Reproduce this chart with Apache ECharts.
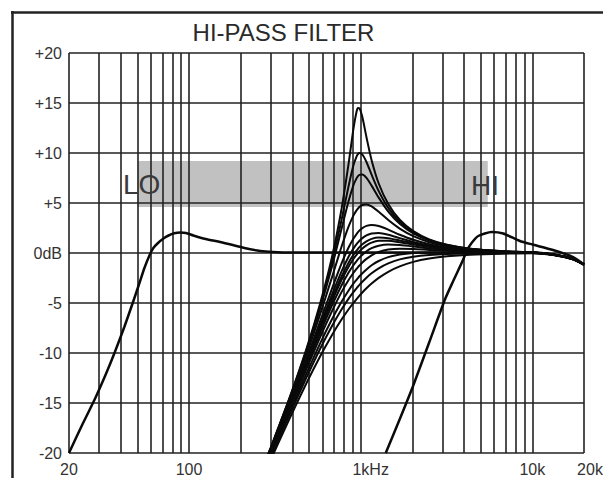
<!DOCTYPE html>
<html><head><meta charset="utf-8">
<script src="https://cdn.jsdelivr.net/npm/echarts@6/dist/echarts.min.js"></script>
<style>html,body{margin:0;padding:0;background:#fff}#c{width:603px;height:478px}</style>
</head><body><div id="c"></div>
<script>
// ---- tick labels ----
const xTickValues = [20, 100, 1000, 10000, 20000];
const xTickLabels = ['20', '100', '1kHz', '10k', '20k'];
const yTickValues = [-20, -15, -10, -5, 0, 5, 10, 15, 20];
const yTickLabels = ['-20', '-15', '-10', '-5', '0dB', '+5', '+10', '+15', '+20'];
const gridFreqs = [20,30,40,50,60,70,80,90,100,200,300,400,500,600,700,800,900,1000,2000,3000,4000,5000,6000,7000,8000,9000,10000,20000];

// ---- shaded band (frequency / dB extent) ----
const bandFreq = [50, 5500];
const bandDb = [4.6, 9.2];

// ---- LO curve ----
const loFreq = [20, 24, 28.3, 33, 37, 42, 47, 51, 55, 59, 62, 66, 71, 76, 82, 89, 96, 106, 125, 152, 180, 217, 260, 308, 400, 1000, 3000, 10000, 13200, 17200, 20000];
const loDb   = [-20, -17.1, -14.6, -12.0, -9.9, -7.4, -5, -3.2, -1.5, -0.2, 0.5, 1.0, 1.45, 1.75, 1.97, 2.05, 2.0, 1.75, 1.4, 1.1, 0.8, 0.45, 0.2, 0.1, 0.05, 0.05, 0.05, 0.05, -0.15, -0.6, -1.15];

// ---- HI curve ----
const hiFreq = [1400, 1700, 2020, 2500, 3097, 3462, 3958, 4144, 4428, 4840, 5792, 6770, 8460, 10000, 13200, 17200, 20000];
const hiDb   = [-20, -16.5, -13.3, -9.0, -4.65, -2.8, -0.65, 0.2, 1.0, 1.7, 2.1, 1.95, 1.2, 0.85, 0.3, -0.4, -1.15];

// ---- centre (resonance sweep) family ----
const famFreq = [270, 299, 386, 483, 579, 676, 772, 849, 907, 946, 965, 984, 1023, 1081, 1158, 1274, 1448, 1689, 2027, 2509, 3185, 4343, 6755, 10000, 13200, 17200, 20000];
const famA = [-21.42, -19.49, -14.44, -9.61, -5.13, -0.63, 4.30, 8.83, 12.39, 14.12, 14.49, 14.47, 13.59, 11.58, 9.28, 6.95, 4.89, 3.32, 2.18, 1.36, 0.82, 0.43, 0.18, 0.05, -0.15, -0.6, -1.15];
const famB = [-21.44, -19.52, -14.50, -9.74, -5.37, -1.12, 3.22, 6.63, 8.74, 9.64, 9.88, 9.99, 9.85, 9.10, 7.83, 6.19, 4.51, 3.12, 2.07, 1.30, 0.79, 0.42, 0.17, 0.05, -0.15, -0.6, -1.15];
const famC = [-21.47, -19.56, -14.57, -9.86, -5.61, -1.56, 2.34, 5.15, 6.77, 7.46, 7.68, 7.81, 7.85, 7.51, 6.74, 5.54, 4.15, 2.93, 1.96, 1.24, 0.76, 0.40, 0.16, 0.05, -0.15, -0.6, -1.15];
const famD = [-21.54, -19.65, -14.74, -10.18, -6.19, -2.59, 0.57, 2.61, 3.74, 4.26, 4.45, 4.61, 4.80, 4.86, 4.66, 4.12, 3.30, 2.44, 1.68, 1.08, 0.67, 0.36, 0.15, 0.05, -0.15, -0.6, -1.15];
const famE = [-21.64, -19.77, -14.98, -10.60, -6.89, -3.71, -1.09, 0.53, 1.43, 1.89, 2.08, 2.24, 2.49, 2.71, 2.81, 2.70, 2.34, 1.83, 1.32, 0.87, 0.55, 0.30, 0.12, 0.05, -0.15, -0.6, -1.15];
const famF = [-21.70, -19.85, -15.11, -10.84, -7.27, -4.28, -1.88, -0.40, 0.44, 0.88, 1.06, 1.23, 1.49, 1.77, 1.96, 2.00, 1.83, 1.49, 1.10, 0.75, 0.47, 0.26, 0.11, 0.05, -0.15, -0.6, -1.15];
const famG = [-21.75, -19.91, -15.22, -11.01, -7.54, -4.68, -2.39, -0.99, -0.19, 0.24, 0.42, 0.59, 0.87, 1.17, 1.41, 1.54, 1.48, 1.25, 0.95, 0.65, 0.42, 0.23, 0.10, 0.05, -0.15, -0.6, -1.15];
const famH = [-21.79, -19.95, -15.29, -11.14, -7.74, -4.95, -2.74, -1.39, -0.60, -0.18, 0.00, 0.17, 0.45, 0.77, 1.04, 1.22, 1.23, 1.08, 0.84, 0.59, 0.38, 0.21, 0.09, 0.05, -0.15, -0.6, -1.15];
const famI = [-21.84, -20.02, -15.42, -11.34, -8.04, -5.37, -3.27, -1.98, -1.23, -0.81, -0.63, -0.46, -0.18, 0.17, 0.48, 0.73, 0.85, 0.80, 0.66, 0.47, 0.31, 0.17, 0.07, 0.04, -0.15, -0.6, -1.15];
const famJ = [-21.92, -20.12, -15.59, -11.62, -8.45, -5.92, -3.94, -2.72, -2.00, -1.59, -1.41, -1.25, -0.95, -0.59, -0.23, 0.11, 0.35, 0.43, 0.40, 0.31, 0.22, 0.12, 0.05, 0.03, -0.16, -0.6, -1.15];
const famK = [-22.06, -20.29, -15.88, -12.07, -9.08, -6.73, -4.91, -3.77, -3.07, -2.68, -2.50, -2.33, -2.03, -1.64, -1.23, -0.80, -0.41, -0.15, 0.00, 0.05, 0.05, 0.04, 0.02, 0.01, -0.17, -0.6, -1.15];
const famL = [-22.19, -20.45, -16.14, -12.47, -9.62, -7.40, -5.68, -4.59, -3.92, -3.53, -3.35, -3.18, -2.87, -2.47, -2.03, -1.53, -1.04, -0.64, -0.37, -0.20, -0.10, -0.04, -0.01, 0.00, -0.18, -0.61, -1.15];
const famM = [-22.39, -20.70, -16.53, -13.03, -10.37, -8.29, -6.68, -5.65, -5.00, -4.62, -4.44, -4.27, -3.95, -3.53, -3.06, -2.49, -1.88, -1.34, -0.89, -0.56, -0.33, -0.17, -0.07, -0.03, -0.2, -0.62, -1.15];
const familyList = [famA, famB, famC, famD, famE, famF, famG, famH, famI, famJ, famK, famL, famM];

const FONT = "'Liberation Sans', Arial, Helvetica, sans-serif";
const INK = '#0a0a0a';
const GRIDC = '#222222';

function pairs(xs, ys) { return xs.map((x, i) => [x, ys[i]]); }

const series = [];
series.push({
  name: 'LO', type: 'line', data: pairs(loFreq, loDb), showSymbol: false, smooth: 0.2,
  lineStyle: { color: INK, width: 2.5 }, z: 4, silent: true, clip: false,
  markLine: {
    silent: true, symbol: 'none', z: 2, animation: false,
    label: { show: false }, emphasis: { disabled: true },
    lineStyle: { type: 'solid', color: GRIDC, width: 1.6 },
    data: gridFreqs.map(v => ({ xAxis: v })).concat(yTickValues.map(v => ({ yAxis: v })))
  },
  markArea: {
    silent: true, z: 1, animation: false, label: { show: false }, emphasis: { disabled: true },
    itemStyle: { color: '#c1c1c1' },
    data: [[{ xAxis: bandFreq[0], yAxis: bandDb[1] }, { xAxis: bandFreq[1], yAxis: bandDb[0] }]]
  }
});
familyList.forEach((arr, k) => {
  series.push({
    name: 'F' + k, type: 'line', data: pairs(famFreq, arr), showSymbol: false, smooth: 0.25,
    lineStyle: { color: INK, width: 2 }, z: 3, silent: true, clip: true
  });
});
series.push({
  name: 'HI', type: 'line', data: pairs(hiFreq, hiDb), showSymbol: false, smooth: 0.2,
  lineStyle: { color: INK, width: 2.5 }, z: 4, silent: true, clip: true
});

const chart = echarts.init(document.getElementById('c'), null, { renderer: 'svg', width: 603, height: 478 });
chart.setOption({
  animation: false,
  backgroundColor: '#ffffff',
  grid: { left: 69, top: 53, right: 19, bottom: 25, containLabel: false, outerBoundsMode: 'none' },
  xAxis: {
    type: 'log', logBase: 10, min: 20, max: 20000,
    axisLine: { show: false }, axisTick: { show: false }, splitLine: { show: false }, minorSplitLine: { show: false },
    axisLabel: {
      show: true, margin: 8, showMinLabel: true, showMaxLabel: true,
      color: '#333', fontSize: 16, fontFamily: FONT,
      formatter: function (v) {
        const i = xTickValues.findIndex(t => Math.abs(t - v) < t * 1e-4);
        if (i < 0) return '';
        const s = xTickLabels[i];
        if (i === 2) return '{k|' + s + '}';
        if (i === 4) return '{e|' + s + '}';
        return s;
      },
      rich: {
        k: { padding: [0, 0, 0, 20], fontSize: 16, fontFamily: FONT, color: '#333' },
        e: { padding: [0, 0, 0, 12], fontSize: 16, fontFamily: FONT, color: '#333' }
      }
    }
  },
  yAxis: {
    type: 'value', min: -20, max: 20, interval: 5,
    axisLine: { show: false }, axisTick: { show: false }, splitLine: { show: false },
    axisLabel: {
      margin: 7, color: '#333', fontSize: 16, fontFamily: FONT,
      formatter: function (v) {
        const i = yTickValues.indexOf(Math.round(v));
        return i < 0 ? '' : yTickLabels[i];
      }
    }
  },
  graphic: [
    { type: 'line', shape: { x1: 12.5, y1: 11, x2: 12.5, y2: 478 }, style: { stroke: '#222', lineWidth: 2.5 } },
    { type: 'line', shape: { x1: 11, y1: 12.5, x2: 603, y2: 12.5 }, style: { stroke: '#222', lineWidth: 2.5 } },
    { type: 'text', x: 283.5, y: 32, style: { text: 'HI-PASS FILTER', font: '24px ' + FONT, fill: '#2a2a2a', align: 'center', verticalAlign: 'middle', textAlign: 'center', textVerticalAlign: 'middle' } },
    { type: 'text', x: 123, y: 184, z: 10, style: { text: 'LO', font: '28px ' + FONT, fill: '#3a3a3a', align: 'left', verticalAlign: 'middle', textAlign: 'left', textVerticalAlign: 'middle' } },
    { type: 'text', x: 471, y: 185.5, z: 10, style: { text: 'HI', font: '28px ' + FONT, fill: '#3a3a3a', align: 'left', verticalAlign: 'middle', textAlign: 'left', textVerticalAlign: 'middle' } }
  ],
  series: series
});
</script></body></html>
